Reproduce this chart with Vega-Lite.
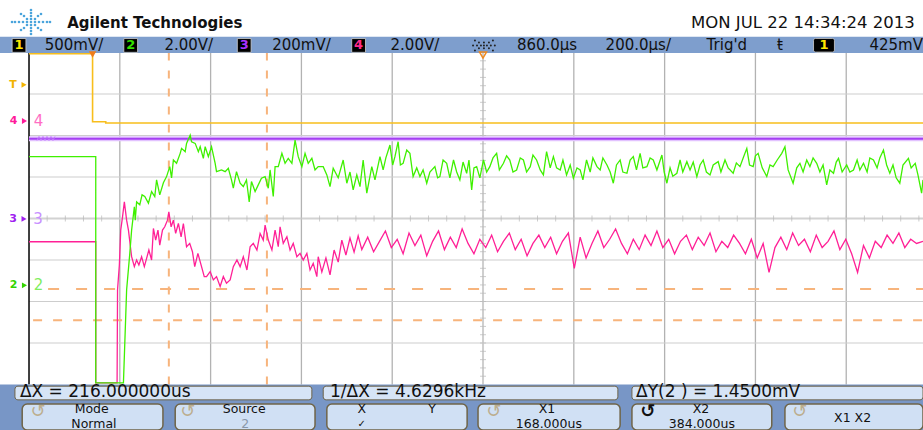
{
"$schema": "https://vega.github.io/schema/vega-lite/v6.json",
"width": 923, "height": 430,
"autosize": {"type": "none"},
"padding": 0,
"background": "#ffffff",
"config": {"view": {"stroke": null}, "text": {"font": "DejaVu Sans"}},
"resolve": {"scale": {"color": "independent"}},
"datasets": {
  "gridx": [{"t":60},{"t":260},{"t":460},{"t":660},{"t":1060},{"t":1260},{"t":1460},{"t":1660}],
  "gridy": [{"v":-3},{"v":-2},{"v":-1},{"v":1},{"v":2},{"v":3}],
  "hticks": [{"t":-100},{"t":-60},{"t":-20},{"t":20},{"t":60},{"t":100},{"t":140},{"t":180},{"t":220},{"t":260},{"t":300},{"t":340},{"t":380},{"t":420},{"t":460},{"t":500},{"t":540},{"t":580},{"t":620},{"t":660},{"t":700},{"t":740},{"t":780},{"t":820},{"t":860},{"t":900},{"t":940},{"t":980},{"t":1020},{"t":1060},{"t":1100},{"t":1140},{"t":1180},{"t":1220},{"t":1260},{"t":1300},{"t":1340},{"t":1380},{"t":1420},{"t":1460},{"t":1500},{"t":1540},{"t":1580},{"t":1620},{"t":1660},{"t":1700},{"t":1740},{"t":1780},{"t":1820}],
  "vticks": [{"v":-3.8},{"v":-3.6},{"v":-3.4},{"v":-3.2},{"v":-3.0},{"v":-2.8},{"v":-2.6},{"v":-2.4},{"v":-2.2},{"v":-2.0},{"v":-1.8},{"v":-1.6},{"v":-1.4},{"v":-1.2},{"v":-1.0},{"v":-0.8},{"v":-0.6},{"v":-0.4},{"v":-0.2},{"v":0.2},{"v":0.4},{"v":0.6},{"v":0.8},{"v":1.0},{"v":1.2},{"v":1.4},{"v":1.6},{"v":1.8},{"v":2.0},{"v":2.2},{"v":2.4},{"v":2.6},{"v":2.8},{"v":3.0},{"v":3.2},{"v":3.4},{"v":3.6},{"v":3.8}],
  "cursorsX": [{"t":168},{"t":384}],
  "cursorY1": [{"t":-98,"v":-1.70}],
  "cursorY2": [{"t":-131,"v":-2.45}],
  "yellow": [{"t":-140,"v":3.97},{"t":0,"v":3.97},{"t":0,"v":2.33},{"t":29,"v":2.33},{"t":29,"v":2.30},{"t":1829.1,"v":2.30}],
  "purple": [{"t":-140,"v":1.923},{"t":1829.1,"v":1.923}],
  "squiggle": [{"t":-122.4,"v":1.88},{"t":-118.0,"v":1.976},{"t":-113.6,"v":1.88},{"t":-109.2,"v":1.976},{"t":-104.8,"v":1.88},{"t":-100.4,"v":1.976},{"t":-96.0,"v":1.88},{"t":-91.6,"v":1.976},{"t":-87.2,"v":1.88},{"t":-82.8,"v":1.976}],
  "pink": [{"t":-140,"v":-0.56},{"t":7,"v":-0.56},{"t":7,"v":-3.96},{"t":54,"v":-3.96},{"t":55,"v":-1.72},{"t":59,"v":-1.12},{"t":62,"v":-0.28},{"t":66,"v":0.04},{"t":70,"v":0.40},{"t":75,"v":-0.04},{"t":79,"v":-0.28},{"t":86,"v":-0.92},{"t":92,"v":-1.16},{"t":97,"v":-1.00},{"t":102,"v":-1.12},{"t":108,"v":-0.92},{"t":114,"v":-1.16},{"t":119,"v":-0.96},{"t":124,"v":-0.76},{"t":130,"v":-1.00},{"t":134,"v":-0.24},{"t":139,"v":-0.52},{"t":144,"v":-0.28},{"t":148,"v":-0.64},{"t":154,"v":-0.28},{"t":159,"v":-0.20},{"t":165,"v":-0.04},{"t":168,"v":0.16},{"t":173,"v":-0.20},{"t":178,"v":-0.04},{"t":183,"v":-0.36},{"t":189,"v":-0.12},{"t":195,"v":-0.44},{"t":200,"v":-0.12},{"t":207,"v":-0.68},{"t":214,"v":-0.60},{"t":220,"v":-0.80},{"t":225,"v":-1.16},{"t":232,"v":-0.84},{"t":240,"v":-1.16},{"t":246,"v":-1.40},{"t":251,"v":-1.40},{"t":259,"v":-1.28},{"t":266,"v":-1.48},{"t":273,"v":-1.40},{"t":281,"v":-1.64},{"t":288,"v":-1.40},{"t":295,"v":-1.56},{"t":303,"v":-1.48},{"t":310,"v":-1.16},{"t":318,"v":-1.00},{"t":325,"v":-1.16},{"t":332,"v":-0.92},{"t":340,"v":-1.24},{"t":347,"v":-0.68},{"t":354,"v":-0.60},{"t":362,"v":-0.76},{"t":369,"v":-0.36},{"t":376,"v":-0.52},{"t":380,"v":-0.16},{"t":387,"v":-0.52},{"t":395,"v":-0.76},{"t":402,"v":-0.28},{"t":409,"v":-0.68},{"t":413,"v":-0.20},{"t":420,"v":-0.60},{"t":428,"v":-0.44},{"t":435,"v":-0.76},{"t":442,"v":-0.60},{"t":450,"v":-0.92},{"t":457,"v":-0.84},{"t":464,"v":-1.00},{"t":472,"v":-0.84},{"t":479,"v":-1.24},{"t":486,"v":-1.08},{"t":494,"v":-1.40},{"t":497,"v":-0.92},{"t":505,"v":-1.29},{"t":514,"v":-0.95},{"t":523,"v":-1.36},{"t":532,"v":-0.76},{"t":541,"v":-1.05},{"t":549,"v":-0.52},{"t":558,"v":-0.88},{"t":567,"v":-0.47},{"t":576,"v":-0.81},{"t":585,"v":-0.42},{"t":593,"v":-0.75},{"t":606,"v":-0.45},{"t":619,"v":-0.80},{"t":632,"v":-0.55},{"t":645,"v":-0.30},{"t":658,"v":-0.70},{"t":671,"v":-0.50},{"t":684,"v":-0.85},{"t":697,"v":-0.35},{"t":710,"v":-0.65},{"t":723,"v":-0.40},{"t":736,"v":-0.90},{"t":749,"v":-0.55},{"t":762,"v":-0.30},{"t":775,"v":-0.75},{"t":788,"v":-0.45},{"t":801,"v":-0.70},{"t":814,"v":-0.25},{"t":827,"v":-0.60},{"t":840,"v":-0.85},{"t":853,"v":-0.50},{"t":866,"v":-0.70},{"t":879,"v":-0.40},{"t":892,"v":-0.80},{"t":905,"v":-0.55},{"t":918,"v":-0.35},{"t":931,"v":-0.75},{"t":944,"v":-0.50},{"t":957,"v":-0.90},{"t":970,"v":-0.60},{"t":983,"v":-0.40},{"t":996,"v":-0.70},{"t":1009,"v":-0.45},{"t":1022,"v":-0.85},{"t":1035,"v":-0.55},{"t":1048,"v":-0.35},{"t":1061,"v":-1.20},{"t":1074,"v":-0.45},{"t":1087,"v":-0.95},{"t":1100,"v":-0.60},{"t":1113,"v":-0.30},{"t":1126,"v":-0.70},{"t":1139,"v":-0.50},{"t":1152,"v":-0.25},{"t":1165,"v":-0.60},{"t":1178,"v":-0.85},{"t":1191,"v":-0.50},{"t":1204,"v":-0.75},{"t":1217,"v":-0.40},{"t":1230,"v":-0.65},{"t":1243,"v":-0.30},{"t":1256,"v":-0.70},{"t":1269,"v":-0.50},{"t":1282,"v":-0.85},{"t":1295,"v":-0.55},{"t":1308,"v":-0.40},{"t":1321,"v":-0.75},{"t":1334,"v":-0.45},{"t":1347,"v":-0.65},{"t":1360,"v":-0.35},{"t":1373,"v":-0.80},{"t":1386,"v":-0.55},{"t":1399,"v":-0.70},{"t":1412,"v":-0.40},{"t":1425,"v":-0.60},{"t":1438,"v":-0.85},{"t":1451,"v":-0.50},{"t":1464,"v":-0.95},{"t":1477,"v":-0.60},{"t":1490,"v":-1.30},{"t":1503,"v":-0.70},{"t":1516,"v":-0.45},{"t":1529,"v":-0.75},{"t":1542,"v":-0.35},{"t":1555,"v":-0.65},{"t":1568,"v":-0.50},{"t":1581,"v":-0.80},{"t":1594,"v":-0.40},{"t":1607,"v":-0.70},{"t":1620,"v":-0.55},{"t":1633,"v":-0.30},{"t":1646,"v":-0.75},{"t":1659,"v":-0.50},{"t":1672,"v":-0.85},{"t":1685,"v":-1.30},{"t":1698,"v":-0.65},{"t":1711,"v":-0.95},{"t":1724,"v":-0.55},{"t":1737,"v":-0.70},{"t":1750,"v":-0.40},{"t":1763,"v":-0.60},{"t":1776,"v":-0.35},{"t":1789,"v":-0.70},{"t":1802,"v":-0.50},{"t":1815,"v":-0.60},{"t":1829.1,"v":-0.55}],
  "green": [{"t":-140,"v":1.49},{"t":7,"v":1.49},{"t":7,"v":-3.96},{"t":68,"v":-3.96},{"t":75,"v":-1.72},{"t":82,"v":-0.84},{"t":86,"v":-0.28},{"t":92,"v":0.28},{"t":94,"v":-0.04},{"t":97,"v":0.40},{"t":104,"v":0.33},{"t":109,"v":0.57},{"t":115,"v":0.53},{"t":123,"v":0.37},{"t":130,"v":0.65},{"t":137,"v":0.53},{"t":141,"v":0.93},{"t":148,"v":0.57},{"t":156,"v":0.86},{"t":163,"v":1.01},{"t":170,"v":1.25},{"t":174,"v":0.98},{"t":178,"v":1.41},{"t":185,"v":1.33},{"t":193,"v":1.57},{"t":196,"v":1.69},{"t":204,"v":1.61},{"t":207,"v":1.81},{"t":215,"v":2.01},{"t":218,"v":1.85},{"t":226,"v":1.81},{"t":233,"v":1.61},{"t":237,"v":1.73},{"t":244,"v":1.45},{"t":248,"v":1.73},{"t":255,"v":1.49},{"t":262,"v":1.73},{"t":270,"v":1.33},{"t":273,"v":1.13},{"t":284,"v":1.17},{"t":292,"v":1.13},{"t":299,"v":1.21},{"t":306,"v":0.93},{"t":310,"v":0.73},{"t":317,"v":1.13},{"t":325,"v":0.85},{"t":332,"v":0.77},{"t":339,"v":0.93},{"t":345,"v":0.40},{"t":350,"v":0.89},{"t":358,"v":0.65},{"t":365,"v":0.81},{"t":372,"v":0.97},{"t":380,"v":1.01},{"t":387,"v":0.73},{"t":391,"v":1.17},{"t":398,"v":0.53},{"t":402,"v":1.25},{"t":409,"v":1.25},{"t":417,"v":1.57},{"t":424,"v":1.33},{"t":431,"v":1.45},{"t":439,"v":1.33},{"t":446,"v":1.89},{"t":453,"v":1.49},{"t":461,"v":1.25},{"t":468,"v":1.57},{"t":475,"v":1.33},{"t":483,"v":1.45},{"t":490,"v":1.17},{"t":497,"v":1.25},{"t":508,"v":1.25},{"t":516,"v":1.05},{"t":523,"v":0.77},{"t":530,"v":1.21},{"t":541,"v":0.98},{"t":552,"v":1.41},{"t":560,"v":0.85},{"t":567,"v":1.12},{"t":574,"v":0.69},{"t":582,"v":1.05},{"t":589,"v":0.77},{"t":596,"v":1.41},{"t":604,"v":0.61},{"t":615,"v":1.25},{"t":622,"v":0.93},{"t":633,"v":1.49},{"t":640,"v":1.17},{"t":646,"v":1.46},{"t":655,"v":1.77},{"t":661,"v":1.29},{"t":666,"v":1.49},{"t":673,"v":1.85},{"t":678,"v":1.29},{"t":684,"v":1.33},{"t":692,"v":1.65},{"t":699,"v":1.57},{"t":706,"v":1.01},{"t":714,"v":1.22},{"t":721,"v":1.01},{"t":728,"v":1.17},{"t":736,"v":0.85},{"t":743,"v":1.12},{"t":754,"v":1.25},{"t":760,"v":0.98},{"t":765,"v":1.01},{"t":772,"v":1.41},{"t":780,"v":1.33},{"t":787,"v":0.98},{"t":795,"v":1.41},{"t":802,"v":1.12},{"t":809,"v":0.93},{"t":816,"v":1.36},{"t":824,"v":1.09},{"t":829,"v":1.41},{"t":835,"v":0.69},{"t":840,"v":1.22},{"t":846,"v":1.25},{"t":853,"v":0.98},{"t":861,"v":1.41},{"t":868,"v":1.12},{"t":875,"v":1.25},{"t":882,"v":1.46},{"t":890,"v":1.57},{"t":896,"v":1.17},{"t":905,"v":1.33},{"t":912,"v":1.51},{"t":919,"v":1.41},{"t":926,"v":1.12},{"t":934,"v":1.17},{"t":942,"v":1.46},{"t":949,"v":1.41},{"t":956,"v":1.12},{"t":964,"v":1.25},{"t":970,"v":1.53},{"t":978,"v":1.41},{"t":986,"v":1.17},{"t":993,"v":1.05},{"t":1000,"v":1.61},{"t":1008,"v":1.22},{"t":1015,"v":1.49},{"t":1022,"v":1.22},{"t":1030,"v":1.17},{"t":1036,"v":1.41},{"t":1044,"v":1.05},{"t":1052,"v":1.29},{"t":1059,"v":0.97},{"t":1067,"v":1.22},{"t":1074,"v":1.17},{"t":1080,"v":0.93},{"t":1088,"v":1.41},{"t":1096,"v":1.12},{"t":1102,"v":1.46},{"t":1111,"v":1.25},{"t":1118,"v":1.17},{"t":1124,"v":1.46},{"t":1133,"v":1.29},{"t":1140,"v":1.12},{"t":1147,"v":0.85},{"t":1154,"v":1.29},{"t":1162,"v":1.41},{"t":1168,"v":1.12},{"t":1177,"v":1.09},{"t":1184,"v":1.41},{"t":1191,"v":1.49},{"t":1198,"v":1.17},{"t":1206,"v":1.57},{"t":1212,"v":1.22},{"t":1221,"v":1.25},{"t":1228,"v":1.46},{"t":1235,"v":1.41},{"t":1243,"v":1.17},{"t":1254,"v":1.53},{"t":1259,"v":1.12},{"t":1265,"v":0.85},{"t":1272,"v":1.22},{"t":1278,"v":1.02},{"t":1287,"v":1.09},{"t":1294,"v":1.41},{"t":1300,"v":1.12},{"t":1309,"v":1.37},{"t":1316,"v":1.17},{"t":1323,"v":1.36},{"t":1331,"v":1.01},{"t":1338,"v":1.29},{"t":1345,"v":1.41},{"t":1352,"v":1.12},{"t":1360,"v":1.05},{"t":1367,"v":1.29},{"t":1378,"v":1.37},{"t":1384,"v":1.12},{"t":1393,"v":1.41},{"t":1400,"v":1.22},{"t":1411,"v":1.09},{"t":1418,"v":1.34},{"t":1426,"v":1.25},{"t":1433,"v":1.46},{"t":1441,"v":1.69},{"t":1447,"v":1.29},{"t":1455,"v":1.25},{"t":1460,"v":1.51},{"t":1466,"v":1.57},{"t":1475,"v":1.22},{"t":1485,"v":1.01},{"t":1492,"v":1.29},{"t":1499,"v":1.25},{"t":1508,"v":1.41},{"t":1518,"v":1.57},{"t":1525,"v":1.73},{"t":1532,"v":1.17},{"t":1543,"v":0.85},{"t":1551,"v":1.22},{"t":1558,"v":1.33},{"t":1565,"v":1.12},{"t":1573,"v":1.41},{"t":1580,"v":1.25},{"t":1587,"v":1.46},{"t":1595,"v":1.33},{"t":1602,"v":1.12},{"t":1609,"v":1.29},{"t":1617,"v":0.81},{"t":1624,"v":1.17},{"t":1632,"v":1.09},{"t":1638,"v":1.36},{"t":1643,"v":1.45},{"t":1651,"v":1.12},{"t":1661,"v":1.29},{"t":1668,"v":1.12},{"t":1676,"v":1.17},{"t":1684,"v":1.41},{"t":1690,"v":1.17},{"t":1698,"v":1.33},{"t":1706,"v":1.12},{"t":1712,"v":1.46},{"t":1720,"v":1.41},{"t":1728,"v":1.22},{"t":1734,"v":1.46},{"t":1742,"v":1.65},{"t":1749,"v":1.29},{"t":1756,"v":1.09},{"t":1763,"v":1.29},{"t":1770,"v":0.98},{"t":1778,"v":0.85},{"t":1785,"v":1.29},{"t":1797,"v":1.45},{"t":1803,"v":1.22},{"t":1812,"v":1.33},{"t":1818,"v":1.05},{"t":1826,"v":0.61},{"t":1829.1,"v":0.93}],
  "chmark": [{"ch":"T","t":-151,"v":3.22},{"ch":"4","t":-150,"v":2.35},{"ch":"3","t":-151,"v":-0.01},{"ch":"2","t":-150,"v":-1.61}],
  "chbox": [{"ch":"1","t":-162,"v":4.17},{"ch":"2","t":84,"v":4.17},{"ch":"3","t":334,"v":4.17},{"ch":"4","t":586,"v":4.17},{"ch":"1","t":1611,"v":4.17}],
  "barlab": [{"label":"500mV/","t":-41,"v":4.17},{"label":"2.00V/","t":212,"v":4.17},{"label":"200mV/","t":460,"v":4.17},{"label":"2.00V/","t":710,"v":4.17},{"label":"860.0µs","t":1001,"v":4.17},{"label":"200.0µs/","t":1202,"v":4.17},{"label":"Trig'd","t":1397,"v":4.17},{"label":"ŧ","t":1514,"v":4.17},{"label":"425mV","t":1770,"v":4.17}],
  "logo": [{"t":-135.6,"v":4.735},{"t":-126.8,"v":4.735},{"t":-144.4,"v":4.735},{"t":-118.0,"v":4.735},{"t":-153.2,"v":4.735},{"t":-109.2,"v":4.735},{"t":-162.0,"v":4.735},{"t":-100.4,"v":4.735},{"t":-170.8,"v":4.735},{"t":-93.8,"v":4.735},{"t":-177.4,"v":4.735},{"t":-135.6,"v":4.807},{"t":-135.6,"v":4.663},{"t":-135.6,"v":4.880},{"t":-135.6,"v":4.590},{"t":-135.6,"v":4.952},{"t":-135.6,"v":4.518},{"t":-135.6,"v":5.024},{"t":-135.6,"v":4.446},{"t":-126.8,"v":4.807},{"t":-144.4,"v":4.807},{"t":-126.8,"v":4.663},{"t":-144.4,"v":4.663},{"t":-120.2,"v":4.880},{"t":-151.0,"v":4.880},{"t":-120.2,"v":4.590},{"t":-151.0,"v":4.590},{"t":-113.6,"v":4.928},{"t":-157.6,"v":4.928},{"t":-113.6,"v":4.542},{"t":-157.6,"v":4.542}],
  "burst": [{"t":862,"v":4.17},{"t":855.4,"v":4.17},{"t":868.6,"v":4.17},{"t":846.8,"v":4.17},{"t":877.2,"v":4.17},{"t":838,"v":4.17},{"t":886,"v":4.17},{"t":862,"v":4.24},{"t":862,"v":4.10},{"t":851,"v":4.24},{"t":873,"v":4.24},{"t":851,"v":4.10},{"t":873,"v":4.10},{"t":842.2,"v":4.29},{"t":881.8,"v":4.29},{"t":842.2,"v":4.05},{"t":881.8,"v":4.05}],
  "statusbox": [{"t":-171,"t2":483,"v":-4.04,"v2":-4.37},{"t":508,"t2":1157,"v":-4.04,"v2":-4.37},{"t":1188,"t2":1829.1,"v":-4.04,"v2":-4.37}],
  "buttons": [{"t":-155,"t2":155,"v":-4.47,"v2":-5.096},{"t":182,"t2":490,"v":-4.47,"v2":-5.096},{"t":516,"t2":825,"v":-4.47,"v2":-5.096},{"t":849,"t2":1162,"v":-4.47,"v2":-5.096},{"t":1188,"t2":1496,"v":-4.47,"v2":-5.096},{"t":1525,"t2":1829.1,"v":-4.47,"v2":-5.096}],
  "statustext": [{"label":"ΔX = 216.000000us","t":-160,"v":-4.19},{"label":"1/ΔX = 4.6296kHz","t":523,"v":-4.19},{"label":"ΔY(2 ) = 1.4500mV","t":1197,"v":-4.19}],
  "btntext": [{"label":"Mode","t":-2,"v":-4.597},{"label":"Normal","t":3,"v":-4.94},{"label":"Source","t":334,"v":-4.597},{"label":"X","t":593,"v":-4.597},{"label":"Y","t":748,"v":-4.597},{"label":"X1","t":1001,"v":-4.597},{"label":"168.000us","t":1005,"v":-4.94},{"label":"X2","t":1340,"v":-4.597},{"label":"384.000us","t":1342,"v":-4.94},{"label":"X1 X2","t":1674,"v":-4.80}],
  "check": [{"label":"✓","t":593,"v":-4.96}],
  "btnsub": [{"label":"2","t":336,"v":-4.94}],
  "icons": [{"label":"↺","t":-120,"v":-4.67},{"label":"↺","t":210,"v":-4.67},{"label":"↺","t":884,"v":-4.67},{"label":"↺","t":1558,"v":-4.67}],
  "iconActive": [{"label":"↺","t":1223,"v":-4.67}],
  "header": [{"label":"Agilent Technologies","t":-56,"v":4.72}],
  "date": [{"label":"MON JUL 22 14:34:24 2013","t":1811,"v":4.72}],
  "trig": [{"t":0,"v":3.95}],
  "tref": [{"t":860,"v":3.94}]
},
"layer": [
  {"data": {"name": "gridx"}, "mark": {"type": "rule", "color": "#b2b2b2", "strokeWidth": 1.3},
   "encoding": {"x": {"field": "t", "type": "quantitative", "scale": {"domain": [-203.9, 1829.1], "nice": false, "zero": false}, "axis": null}, "y": {"datum": -4, "type": "quantitative", "scale": {"domain": [-5.096, 5.265], "nice": false, "zero": false}, "axis": null}, "y2": {"datum": 4}}},
  {"data": {"name": "gridy"}, "mark": {"type": "rule", "color": "#cdcdcd", "strokeWidth": 1.1},
   "encoding": {"x": {"datum": -140, "type": "quantitative"}, "x2": {"datum": 1829.1}, "y": {"field": "v", "type": "quantitative"}}},
  {"data": {"values": [{"t": 860}]}, "mark": {"type": "rule", "color": "#cfcfcf", "strokeWidth": 2},
   "encoding": {"x": {"field": "t", "type": "quantitative"}, "y": {"datum": -4, "type": "quantitative"}, "y2": {"datum": 4}}},
  {"data": {"values": [{"v": 0}]}, "mark": {"type": "rule", "color": "#d2d2d2", "strokeWidth": 2},
   "encoding": {"x": {"datum": -140, "type": "quantitative"}, "x2": {"datum": 1829.1}, "y": {"field": "v", "type": "quantitative"}}},
  {"data": {"name": "hticks"}, "mark": {"type": "tick", "orient": "vertical", "size": 6, "thickness": 1, "color": "#b8b8b8"},
   "encoding": {"x": {"field": "t", "type": "quantitative"}, "y": {"datum": 0, "type": "quantitative"}}},
  {"data": {"name": "vticks"}, "mark": {"type": "tick", "orient": "horizontal", "size": 6, "thickness": 1, "color": "#b8b8b8"},
   "encoding": {"x": {"datum": 860, "type": "quantitative"}, "y": {"field": "v", "type": "quantitative"}}},
  {"data": {"values": [{"t": -140}]}, "mark": {"type": "rule", "color": "#000000", "strokeWidth": 1.5},
   "encoding": {"x": {"field": "t", "type": "quantitative"}, "y": {"datum": -4, "type": "quantitative"}, "y2": {"datum": 3.99}}},
  {"data": {"name": "cursorsX"}, "mark": {"type": "rule", "color": "#f7b47c", "strokeWidth": 2, "strokeDash": [8, 10]},
   "encoding": {"x": {"field": "t", "type": "quantitative"}, "y": {"datum": -4, "type": "quantitative"}, "y2": {"datum": 4}}},
  {"data": {"name": "cursorY1"}, "mark": {"type": "rule", "color": "#f7b47c", "strokeWidth": 2, "strokeDash": [11, 17]},
   "encoding": {"x": {"field": "t", "type": "quantitative"}, "x2": {"datum": 1829.1}, "y": {"field": "v", "type": "quantitative"}}},
  {"data": {"name": "cursorY2"}, "mark": {"type": "rule", "color": "#f7b47c", "strokeWidth": 2, "strokeDash": [9, 11]},
   "encoding": {"x": {"field": "t", "type": "quantitative"}, "x2": {"datum": 1829.1}, "y": {"field": "v", "type": "quantitative"}}},
  {"data": {"name": "yellow"}, "mark": {"type": "line", "color": "#f8be1c", "strokeWidth": 1.6},
   "encoding": {"x": {"field": "t", "type": "quantitative"}, "y": {"field": "v", "type": "quantitative"}, "order": {"value": null}}},
  {"data": {"name": "purple"}, "mark": {"type": "line", "color": "#e2c2ff", "strokeWidth": 5},
   "encoding": {"x": {"field": "t", "type": "quantitative"}, "y": {"field": "v", "type": "quantitative"}, "order": {"value": null}}},
  {"data": {"name": "purple"}, "mark": {"type": "line", "color": "#a53ef2", "strokeWidth": 2},
   "encoding": {"x": {"field": "t", "type": "quantitative"}, "y": {"field": "v", "type": "quantitative"}, "order": {"value": null}}},
  {"data": {"name": "squiggle"}, "mark": {"type": "line", "color": "#c47cff", "strokeWidth": 1},
   "encoding": {"x": {"field": "t", "type": "quantitative"}, "y": {"field": "v", "type": "quantitative"}, "order": {"value": null}}},
  {"data": {"name": "pink"}, "mark": {"type": "line", "color": "#ff2096", "strokeWidth": 1.3},
   "encoding": {"x": {"field": "t", "type": "quantitative"}, "y": {"field": "v", "type": "quantitative"}, "order": {"value": null}}},
  {"data": {"name": "green"}, "mark": {"type": "line", "color": "#3ff000", "strokeWidth": 1.3},
   "encoding": {"x": {"field": "t", "type": "quantitative"}, "y": {"field": "v", "type": "quantitative"}, "order": {"value": null}}},
  {"data": {"name": "chmark"}, "mark": {"type": "point", "shape": "triangle-right", "filled": true, "size": 34, "opacity": 1},
   "encoding": {"x": {"field": "t", "type": "quantitative"}, "y": {"field": "v", "type": "quantitative"}, "color": {"field": "ch", "type": "nominal", "legend": null, "scale": {"domain": ["T", "4", "3", "2"], "range": ["#f2b400", "#ff1a9a", "#a020f0", "#33d400"]}}}},
  {"data": {"name": "chmark"}, "mark": {"type": "text", "fontSize": 11, "fontWeight": "bold", "dx": -11, "align": "center", "baseline": "middle"},
   "encoding": {"x": {"field": "t", "type": "quantitative"}, "y": {"field": "v", "type": "quantitative"}, "text": {"field": "ch"}, "color": {"field": "ch", "type": "nominal", "legend": null, "scale": {"domain": ["T", "4", "3", "2"], "range": ["#f2b400", "#ff1a9a", "#a020f0", "#33d400"]}}}},
  {"data": {"name": "chmark"}, "transform": [{"filter": "datum.ch != 'T'"}], "mark": {"type": "text", "fontSize": 15, "dx": 14, "align": "center", "baseline": "middle"},
   "encoding": {"x": {"field": "t", "type": "quantitative"}, "y": {"field": "v", "type": "quantitative"}, "text": {"field": "ch"}, "color": {"field": "ch", "type": "nominal", "legend": null, "scale": {"domain": ["4", "3", "2"], "range": ["#ff6ec4", "#c890ff", "#80ee60"]}}}},
  {"data": {"values": [{}]}, "mark": {"type": "rect", "color": "#7e9ecd"},
   "encoding": {"x": {"datum": -203.9, "type": "quantitative"}, "x2": {"datum": 1829.1}, "y": {"datum": 3.985, "type": "quantitative"}, "y2": {"datum": 4.38}}},
  {"data": {"name": "chbox"}, "mark": {"type": "point", "shape": "square", "filled": true, "size": 190, "color": "#000000", "stroke": "#cfcfcf", "strokeWidth": 0.8, "opacity": 1},
   "encoding": {"x": {"field": "t", "type": "quantitative"}, "y": {"field": "v", "type": "quantitative"}}},
  {"data": {"values": [{}]}, "mark": {"type": "rect", "color": "#000000", "stroke": "#cfcfcf", "strokeWidth": 0.8, "cornerRadius": 2},
   "encoding": {"x": {"datum": 1588, "type": "quantitative"}, "x2": {"datum": 1634}, "y": {"datum": 4.01, "type": "quantitative"}, "y2": {"datum": 4.34}}},
  {"data": {"name": "chbox"}, "mark": {"type": "text", "fontSize": 13, "fontWeight": "bold", "align": "center", "baseline": "middle"},
   "encoding": {"x": {"field": "t", "type": "quantitative"}, "y": {"field": "v", "type": "quantitative"}, "text": {"field": "ch"}, "color": {"field": "ch", "type": "nominal", "legend": null, "scale": {"domain": ["1", "2", "3", "4"], "range": ["#ffe800", "#33e000", "#a830ff", "#ff2a8a"]}}}},
  {"data": {"name": "barlab"}, "mark": {"type": "text", "fontSize": 15, "color": "#111111", "align": "center", "baseline": "middle"},
   "encoding": {"x": {"field": "t", "type": "quantitative"}, "y": {"field": "v", "type": "quantitative"}, "text": {"field": "label"}}},
  {"data": {"name": "burst"}, "mark": {"type": "point", "filled": true, "size": 4, "color": "#222222", "opacity": 1},
   "encoding": {"x": {"field": "t", "type": "quantitative"}, "y": {"field": "v", "type": "quantitative"}}},
  {"data": {"name": "trig"}, "mark": {"type": "point", "shape": "triangle-down", "filled": true, "size": 55, "color": "#f07d1a", "opacity": 1},
   "encoding": {"x": {"field": "t", "type": "quantitative"}, "y": {"field": "v", "type": "quantitative"}}},
  {"data": {"name": "tref"}, "mark": {"type": "point", "shape": "triangle-down", "filled": false, "size": 50, "color": "#f08a20", "strokeWidth": 1.5, "opacity": 1},
   "encoding": {"x": {"field": "t", "type": "quantitative"}, "y": {"field": "v", "type": "quantitative"}}},
  {"data": {"name": "logo"}, "mark": {"type": "point", "filled": true, "size": 7, "color": "#4aa4dc", "opacity": 1},
   "encoding": {"x": {"field": "t", "type": "quantitative"}, "y": {"field": "v", "type": "quantitative"}}},
  {"data": {"name": "header"}, "mark": {"type": "text", "fontSize": 15, "fontWeight": "bold", "color": "#111111", "align": "left", "baseline": "middle"},
   "encoding": {"x": {"field": "t", "type": "quantitative"}, "y": {"field": "v", "type": "quantitative"}, "text": {"field": "label"}}},
  {"data": {"name": "date"}, "mark": {"type": "text", "fontSize": 16.5, "color": "#111111", "align": "right", "baseline": "middle"},
   "encoding": {"x": {"field": "t", "type": "quantitative"}, "y": {"field": "v", "type": "quantitative"}, "text": {"field": "label"}}},
  {"data": {"values": [{}]}, "mark": {"type": "rect", "color": "#7896c6"},
   "encoding": {"x": {"datum": -203.9, "type": "quantitative"}, "x2": {"datum": 1829.1}, "y": {"datum": -5.096, "type": "quantitative"}, "y2": {"datum": -4.0}}},
  {"data": {"name": "statusbox"}, "mark": {"type": "rect", "color": "#d6e4f6", "stroke": "#6f6448", "strokeWidth": 1, "cornerRadius": 3},
   "encoding": {"x": {"field": "t", "type": "quantitative"}, "x2": {"field": "t2"}, "y": {"field": "v", "type": "quantitative"}, "y2": {"field": "v2"}}},
  {"data": {"name": "buttons"}, "mark": {"type": "rect", "color": "#d0e0f4", "stroke": "#6f6448", "strokeWidth": 1.5, "cornerRadius": 5},
   "encoding": {"x": {"field": "t", "type": "quantitative"}, "x2": {"field": "t2"}, "y": {"field": "v", "type": "quantitative"}, "y2": {"field": "v2"}}},
  {"data": {"name": "statustext"}, "mark": {"type": "text", "fontSize": 17, "color": "#111111", "align": "left", "baseline": "middle"},
   "encoding": {"x": {"field": "t", "type": "quantitative"}, "y": {"field": "v", "type": "quantitative"}, "text": {"field": "label"}}},
  {"data": {"name": "btntext"}, "mark": {"type": "text", "fontSize": 12.5, "color": "#111111", "align": "center", "baseline": "middle"},
   "encoding": {"x": {"field": "t", "type": "quantitative"}, "y": {"field": "v", "type": "quantitative"}, "text": {"field": "label"}}},
  {"data": {"name": "check"}, "mark": {"type": "text", "fontSize": 10, "color": "#111111", "align": "center", "baseline": "middle"},
   "encoding": {"x": {"field": "t", "type": "quantitative"}, "y": {"field": "v", "type": "quantitative"}, "text": {"field": "label"}}},
  {"data": {"name": "btnsub"}, "mark": {"type": "text", "fontSize": 12.5, "color": "#8a98aa", "align": "center", "baseline": "middle"},
   "encoding": {"x": {"field": "t", "type": "quantitative"}, "y": {"field": "v", "type": "quantitative"}, "text": {"field": "label"}}},
  {"data": {"name": "icons"}, "mark": {"type": "text", "fontSize": 18, "color": "#bcae8e", "align": "center", "baseline": "middle"},
   "encoding": {"x": {"field": "t", "type": "quantitative"}, "y": {"field": "v", "type": "quantitative"}, "text": {"field": "label"}}},
  {"data": {"name": "iconActive"}, "mark": {"type": "text", "fontSize": 18, "fontWeight": "bold", "color": "#111111", "align": "center", "baseline": "middle"},
   "encoding": {"x": {"field": "t", "type": "quantitative"}, "y": {"field": "v", "type": "quantitative"}, "text": {"field": "label"}}}
]
}
